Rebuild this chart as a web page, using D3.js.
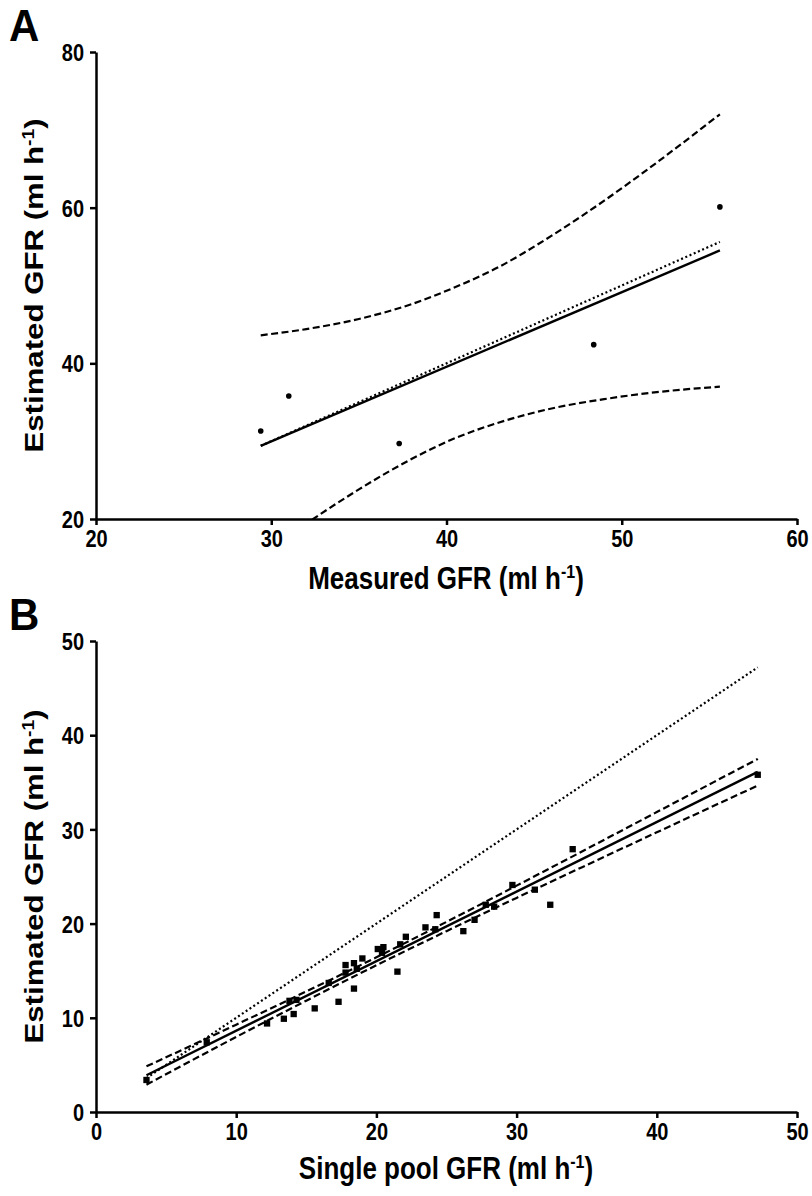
<!DOCTYPE html>
<html>
<head>
<meta charset="utf-8">
<script src="https://cdn.jsdelivr.net/npm/d3@7"></script>
<style>
  body { margin: 0; background: #fff; }
  text { font-family: "Liberation Sans", Arial, sans-serif; font-weight: bold; fill: #000; }
  .axis path, .axis line { stroke: #000; stroke-width: 2.5; }
  .axis text { font-size: 20px; }
</style>
</head>
<body>
<div id="chart"></div>
<script>
// Panel A: measured vs estimated GFR
var aX = [29.4, 31.0, 37.3, 48.4, 55.6];
var aY = [31.3, 35.8, 29.7, 42.4, 60.1];
var aFitX = [29.4, 55.6];
var aFitY = [29.4, 54.5];
var aIdentity = [29.4, 55.6];
var aBandX = [29.4, 32, 35, 38, 40.3, 43, 46, 49, 52, 55.6];
var aUpper = [43.6, 44.4, 45.7, 47.6, 49.6, 52.4, 56.4, 60.9, 65.8, 72.0];
var aLower = [15.2, 19.4, 23.8, 27.7, 30.2, 32.4, 34.2, 35.4, 36.3, 37.0];
var aXTicks = [20, 30, 40, 50, 60];
var aYTicks = [20, 40, 60, 80];

// Panel B: single pool vs estimated GFR
var bX = [3.6, 7.9, 12.2, 13.4, 14.1, 13.8, 14.3, 15.6, 16.6, 17.3, 17.8, 17.8, 18.4, 18.4, 18.6, 19.0, 20.1, 20.5, 20.4, 21.5, 21.7, 22.1, 23.5, 24.2, 24.3, 26.2, 27.0, 27.8, 28.4, 29.7, 31.3, 32.4, 34.0, 47.2];
var bY = [3.4, 7.4, 9.4, 9.9, 10.4, 11.8, 11.9, 11.0, 13.7, 11.7, 14.8, 15.6, 13.1, 15.8, 15.2, 16.3, 17.3, 17.5, 16.9, 14.9, 17.8, 18.6, 19.6, 19.4, 20.9, 19.2, 20.4, 22.0, 21.8, 24.1, 23.6, 22.0, 27.9, 35.8];
var bFitX = [3.6, 47.2];
var bFitY = [3.9, 36.1];
var bIdentity = [3.6, 47.2];
var bBandX = [3.6, 10, 15, 20, 25, 30, 35, 40, 47.2];
var bUpper = [4.85, 9.27, 12.80, 16.42, 20.18, 24.03, 27.92, 31.84, 37.48];
var bLower = [2.9, 7.97, 11.82, 15.58, 19.20, 22.73, 26.22, 29.69, 34.66];
var bXTicks = [0, 10, 20, 30, 40, 50];
var bYTicks = [0, 10, 20, 30, 40, 50];

var svgWidth = 812;
var svgHeight = 1196;
// the figure looks stretched vertically, so text is stretched the same way
var stretch = 1.2;

var svg = d3.select("#chart")
  .append("svg")
  .attr("width", svgWidth)
  .attr("height", svgHeight);

function addTitle(g, transform, label) {
  var t = g.append("text")
    .attr("transform", transform)
    .attr("text-anchor", "middle")
    .style("font-size", "26px")
    .text(label + " (ml h");
  t.append("tspan").attr("dy", -9).style("font-size", "16px").text("-1");
  t.append("tspan").attr("dy", 9).text(")");
}

function drawPanel(opt) {
  var xScale = d3.scaleLinear().domain(opt.xDomain).range([96, 797]);
  var yScale = d3.scaleLinear().domain(opt.yDomain).range([opt.bottom, opt.top]);

  var g = svg.append("g");

  // clip so the bands stop at the axes
  var clipId = "clip" + opt.label;
  svg.append("clipPath").attr("id", clipId)
    .append("rect")
    .attr("x", 96).attr("y", opt.top - 10)
    .attr("width", 701).attr("height", opt.bottom - opt.top + 10);

  var plot = g.append("g").attr("clip-path", "url(#" + clipId + ")");

  var line = d3.line()
    .x(d => xScale(d[0]))
    .y(d => yScale(d[1]))
    .curve(d3.curveMonotoneX);

  // confidence bands
  [opt.upper, opt.lower].forEach(function(band) {
    plot.append("path")
      .datum(opt.bandX.map((x, i) => [x, band[i]]))
      .attr("d", line)
      .attr("fill", "none")
      .attr("stroke", "#000")
      .attr("stroke-width", 2.2)
      .attr("stroke-dasharray", "7,3.5");
  });

  // line of identity
  plot.append("path")
    .datum(opt.identity.map(x => [x, x]))
    .attr("d", line)
    .attr("fill", "none")
    .attr("stroke", "#000")
    .attr("stroke-width", 2.2)
    .attr("stroke-dasharray", "2,2.6");

  // regression line
  plot.append("path")
    .datum(opt.fitX.map((x, i) => [x, opt.fitY[i]]))
    .attr("d", line)
    .attr("fill", "none")
    .attr("stroke", "#000")
    .attr("stroke-width", 2.4);

  // points
  var pts = opt.xs.map((x, i) => [x, opt.ys[i]]);
  if (opt.square) {
    g.append("g").selectAll("path")
      .data(pts)
      .enter()
      .append("path")
      .attr("d", d3.symbol(d3.symbolSquare, 40))
      .attr("transform", d => `translate(${xScale(d[0])}, ${yScale(d[1])})`)
      .attr("fill", "#000");
  } else {
    g.append("g").selectAll("circle")
      .data(pts)
      .enter()
      .append("circle")
      .attr("cx", d => xScale(d[0]))
      .attr("cy", d => yScale(d[1]))
      .attr("r", 2.8)
      .attr("fill", "#000");
  }

  // axes
  g.append("g")
    .attr("class", "axis")
    .attr("transform", `translate(0, ${opt.bottom})`)
    .call(d3.axisBottom(xScale).tickValues(opt.xTicks).tickSize(6).tickSizeOuter(0))
    .call(a => a.selectAll(".tick text")
      .attr("y", 0).attr("dy", 0)
      .attr("transform", `translate(0, 28) scale(1, ${stretch})`));

  g.append("g")
    .attr("class", "axis")
    .attr("transform", "translate(96, 0)")
    .call(d3.axisLeft(yScale).tickValues(opt.yTicks).tickSize(6).tickSizeOuter(0))
    .call(a => a.selectAll(".tick text")
      .attr("x", 0).attr("dy", "0.36em")
      .attr("transform", `translate(-12, 0) scale(1, ${stretch})`));

  // panel letter
  g.append("text")
    .attr("transform", `translate(9, ${opt.top - 11}) scale(1, 1.05)`)
    .style("font-size", "42px")
    .text(opt.label);

  // axis titles
  addTitle(g, `translate(446, ${opt.bottom + opt.xTitleOffset}) scale(1, ${stretch})`, opt.xTitle);
  addTitle(g, `translate(43, ${(opt.top + opt.bottom) / 2}) rotate(-90) scale(${stretch}, 1)`, "Estimated GFR");
}

drawPanel({
  label: "A",
  xDomain: [20, 60], yDomain: [20, 80],
  top: 52, bottom: 519,
  xs: aX, ys: aY, fitX: aFitX, fitY: aFitY, identity: aIdentity,
  bandX: aBandX, upper: aUpper, lower: aLower,
  xTicks: aXTicks, yTicks: aYTicks,
  xTitle: "Measured GFR", xTitleOffset: 70, square: false
});

drawPanel({
  label: "B",
  xDomain: [0, 50], yDomain: [0, 50],
  top: 641, bottom: 1112,
  xs: bX, ys: bY, fitX: bFitX, fitY: bFitY, identity: bIdentity,
  bandX: bBandX, upper: bUpper, lower: bLower,
  xTicks: bXTicks, yTicks: bYTicks,
  xTitle: "Single pool GFR", xTitleOffset: 67, square: true
});
</script>
</body>
</html>
